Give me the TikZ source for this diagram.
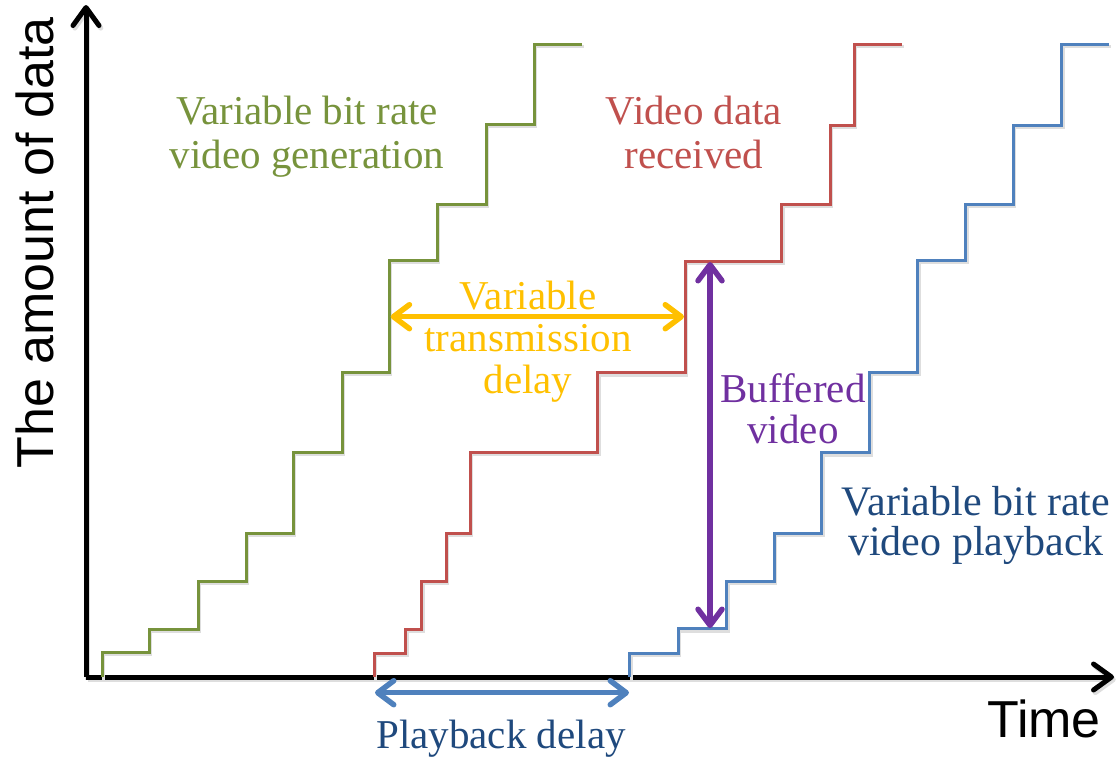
\documentclass[tikz,border=0pt]{standalone}
\usepackage{fontspec}
\setmainfont{Liberation Serif}
\setsansfont{Liberation Sans}
\usetikzlibrary{arrows.meta}

\definecolor{genGreen}{HTML}{77933C}
\definecolor{recvRed}{HTML}{C0504D}
\definecolor{playBlue}{HTML}{4F81BD}
\definecolor{textBlue}{HTML}{1F497D}
\definecolor{delayYellow}{HTML}{FFC000}
\definecolor{bufPurple}{HTML}{7030A0}

\tikzset{
  soft shadow/.style={preaction={draw=black!13, line width=#1,
      transform canvas={shift={(1.8pt,-2.6pt)}}}},
  axisline/.style={line width=5pt, soft shadow=5pt,
      -{Straight Barb[length=18pt,width=26pt,round]}},
  stairs/.style={line width=3pt, line join=miter, soft shadow=3pt},
  span arrow/.style={line width=5.5pt,
      {Straight Barb[length=16pt,width=24pt,round]}-{Straight Barb[length=16pt,width=24pt,round]}},
  label/.style={font=\fontsize{41}{44}\selectfont, align=center, inner sep=0pt, anchor=base},
  axis label/.style={font=\sffamily\fontsize{52}{56}\selectfont, inner sep=0pt, anchor=base},
}

\begin{document}
\begin{tikzpicture}[x=1pt, y=-1pt]
\useasboundingbox (0,0) rectangle (1116,758);

% axes
\coordinate (origin) at (86,677);
\coordinate (ytop) at (86,5);
\coordinate (xend) at (1114,677);
\draw[axisline] (origin) -- (ytop);
\draw[axisline] (origin) -- (xend);

% variable bit rate video generation
\draw[stairs, genGreen] (102,677) -- (102,652) -- (149,652) -- (149,629) -- (198,629)
  -- (198,581) -- (246,581) -- (246,533) -- (293,533) -- (293,452) -- (342,452)
  -- (342,372) -- (389,372) -- (389,260) -- (437,260) -- (437,204) -- (486,204)
  -- (486,124) -- (534,124) -- (534,44) -- (582,44);

% video data received
\draw[stairs, recvRed] (374,677) -- (374,653) -- (405.7,653) -- (405.7,629) -- (421.7,629)
  -- (421.7,581) -- (446,581) -- (446,533) -- (470,533) -- (470,452) -- (597.7,452)
  -- (597.7,372.7) -- (685,372.7) -- (685,261) -- (781.7,261) -- (781.7,204) -- (830,204)
  -- (830,125) -- (854,125) -- (854,44) -- (901.7,44);

% variable bit rate video playback
\draw[stairs, playBlue] (629.3,677) -- (629.3,653) -- (678,653) -- (678,628.5) -- (726.7,628.5)
  -- (726.7,581) -- (774,581) -- (774,533) -- (821.7,533) -- (821.7,452.5) -- (869.5,452.5)
  -- (869.5,372) -- (917.7,372) -- (917.7,260) -- (965.7,260) -- (965.7,204) -- (1013,204)
  -- (1013,125) -- (1061.7,125) -- (1061.7,44) -- (1109,44);

% arrow end points
\coordinate (sendEdge) at (390.7,316.7);
\coordinate (recvEdge) at (684,316.7);
\coordinate (bufTop) at (710,262);
\coordinate (bufBottom) at (710,628);
\coordinate (playStart) at (375,692.7);
\coordinate (playEnd) at (629,692.7);

\draw[span arrow, delayYellow] (sendEdge) -- (recvEdge);
\draw[span arrow, bufPurple] (bufTop) -- (bufBottom);
\draw[span arrow, playBlue] (playStart) -- (playEnd);

% labels (base anchor sits on the last line)
\node[label, text=genGreen] (genText) at (307,168) {Variable bit rate\\video generation};
\node[label, text=recvRed] (recvText) at (694,168) {Video data\\received};
\node[label, text=delayYellow, font=\fontsize{41}{42}\selectfont] (delayText) at (528,393) {Variable\\transmission\\delay};
\node[label, text=bufPurple, font=\fontsize{41}{41}\selectfont] (bufText) at (793,443) {Buffered\\video};
\node[label, text=textBlue, font=\fontsize{42}{40}\selectfont] (playText) at (976,555) {Variable bit rate\\video playback};
\node[label, text=textBlue] (delayLabel) at (501,748) {Playback delay};

\node[axis label, rotate=90] (yLabel) at (53,243) {The amount of data};
\node[axis label] (xLabel) at (1044,737) {Time};
\end{tikzpicture}
\end{document}
